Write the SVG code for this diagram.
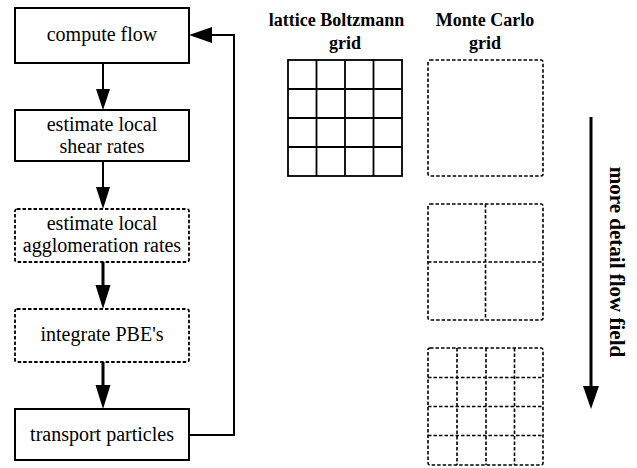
<svg xmlns="http://www.w3.org/2000/svg" width="637" height="468" viewBox="0 0 637 468">
<style>
.box{fill:#fff;stroke:#000;stroke-width:2}
.dbox{fill:#fff;stroke:#000;stroke-width:1.8;stroke-dasharray:3.5 2}
.t{font-family:"Liberation Serif","Times New Roman",serif;font-size:20px;fill:#000;text-anchor:middle}
.h{font-family:"Liberation Serif","Times New Roman",serif;font-size:18px;font-weight:bold;fill:#000;text-anchor:middle}
.grid{fill:none;stroke:#000;stroke-width:1.8}
.dgrid{fill:none;stroke:#000;stroke-width:1.6;stroke-dasharray:3.5 2}
.ln{fill:none;stroke:#000}
</style>
<rect width="637" height="468" fill="#fff"/>
<g id="connectors">
  <line class="ln" x1="103" y1="63" x2="103" y2="92" stroke-width="2"/>
  <polygon points="96,89 110,89 103,110"/>
  <line class="ln" x1="103" y1="161" x2="103" y2="190" stroke-width="2"/>
  <polygon points="96,187 110,187 103,209"/>
  <line class="ln" x1="103" y1="262" x2="103" y2="289" stroke-width="3"/>
  <polygon points="95.5,285 110.5,285 103,309"/>
  <line class="ln" x1="103" y1="362" x2="103" y2="389" stroke-width="3"/>
  <polygon points="95.5,385 110.5,385 103,409"/>
  <polyline class="ln" points="189,435 234,435 234,35 208,35" stroke-width="2"/>
  <polygon points="212,27 212,43 189,35"/>
</g>
<g id="compute-flow">
  <rect class="box" x="15" y="8" width="174" height="55"/>
  <text class="t" x="102" y="41">compute flow</text>
</g>
<g id="shear-rates">
  <rect class="box" x="15" y="110" width="174" height="51"/>
  <text class="t" x="102" y="131">estimate local</text>
  <text class="t" x="102" y="153">shear rates</text>
</g>
<g id="agglomeration-rates">
  <rect class="dbox" x="15" y="209" width="174" height="53" rx="2"/>
  <text class="t" x="102" y="230">estimate local</text>
  <text class="t" x="102" y="252">agglomeration rates</text>
</g>
<g id="integrate-pbe">
  <rect class="dbox" x="15" y="309" width="174" height="53" rx="2"/>
  <text class="t" x="102" y="341">integrate PBE's</text>
</g>
<g id="transport-particles">
  <rect class="box" x="15" y="409" width="174" height="51"/>
  <text class="t" x="102" y="441">transport particles</text>
</g>
<g id="lb-grid">
  <text class="h" x="336.5" y="26">lattice Boltzmann</text>
  <text class="h" x="345" y="49">grid</text>
  <rect class="grid" x="288" y="60" width="114" height="116"/>
  <path class="grid" d="M316.5,60V176M345,60V176M373.5,60V176M288,89H402M288,118H402M288,147H402"/>
</g>
<g id="mc-grid">
  <text class="h" x="485" y="26">Monte Carlo</text>
  <text class="h" x="485" y="49">grid</text>
  <rect class="dgrid" x="428" y="60" width="115" height="116" rx="2"/>
  <rect class="dgrid" x="428" y="204" width="115" height="116" rx="2"/>
  <path class="dgrid" d="M485.5,204V320M428,262H543"/>
  <rect class="dgrid" x="428" y="348" width="115" height="117" rx="2"/>
  <path class="dgrid" d="M457,348V465M486,348V465M514.5,348V465M428,377.5H543M428,406.5H543M428,435.5H543"/>
</g>
<g id="detail-arrow">
  <line class="ln" x1="591" y1="117" x2="591" y2="390" stroke-width="3"/>
  <polygon points="583,386 599,386 591,409"/>
  <text class="h" transform="translate(610,262) rotate(90)" style="font-size:21px">more detail flow field</text>
</g>
</svg>
